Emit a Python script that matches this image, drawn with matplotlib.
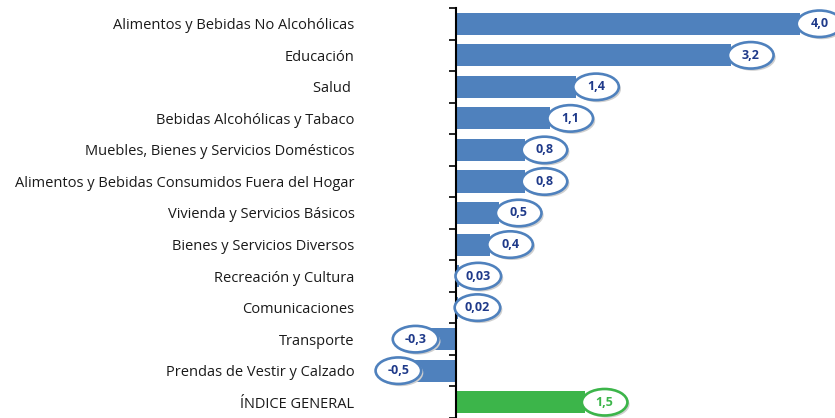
import matplotlib.pyplot as plt
from matplotlib.patches import Ellipse
import numpy as np

# Data
categorias = ["Alimentos y Bebidas No Alcohólicas", "Educación", "Salud ",
              "Bebidas Alcohólicas y Tabaco", "Muebles, Bienes y Servicios Domésticos",
              "Alimentos y Bebidas Consumidos Fuera del Hogar", "Vivienda y Servicios Básicos",
              "Bienes y Servicios Diversos", "Recreación y Cultura", "Comunicaciones",
              "Transporte", "Prendas de Vestir y Calzado", "ÍNDICE GENERAL"]
valores = [4.0, 3.2, 1.4, 1.1, 0.8, 0.8, 0.5, 0.4, 0.03, 0.02, -0.3, -0.5, 1.5]
etiquetas = ["4,0", "3,2", "1,4", "1,1", "0,8", "0,8", "0,5", "0,4", "0,03", "0,02",
             "-0,3", "-0,5", "1,5"]

azul = "#4F81BD"
verde = "#3CB54A"
colores = [azul] * 12 + [verde]
texto_col = ["#1F3A8A"] * 12 + [verde]

plt.rcParams['font.family'] = ['Open Sans', 'DejaVu Sans']

fig = plt.figure(figsize=(8.35, 4.18), dpi=100)
ax = fig.add_axes([370 / 835, 0, 465 / 835, 410 / 418])

y = np.arange(len(categorias))
ax.barh(y, valores, height=0.7, color=colores, zorder=2)

ax.set_xlim(-1.0, 4.41)
ax.set_ylim(12.5, -0.5)

# Labels in ellipses
for yi, v, lab, c, tc in zip(y, valores, etiquetas, colores, texto_col):
    xc = v + 0.23 if v >= 0 else v - 0.17
    sh = Ellipse((xc + 0.025, yi + 0.07), 0.53, 0.84, facecolor="#CFCFCF",
                 edgecolor="none", zorder=3, clip_on=False)
    ax.add_patch(sh)
    el = Ellipse((xc, yi), 0.53, 0.84, facecolor="white", edgecolor=c,
                 linewidth=1.9, zorder=4, clip_on=False)
    ax.add_patch(el)
    ax.text(xc, yi, lab, ha="center", va="center", fontsize=9, fontweight="bold",
            color=tc, zorder=5)

# Axis
for s in ["top", "right", "bottom"]:
    ax.spines[s].set_visible(False)
ax.spines["left"].set_position(("data", 0))
ax.spines["left"].set_linewidth(1.5)
ax.set_xticks([])
ax.set_yticks(y)
ax.set_yticklabels(categorias, fontsize=10.5, color="#1A1A1A")
ax.tick_params(axis="y", which="major", length=0, pad=73)
ax.set_yticks(np.arange(-0.5, 13, 1), minor=True)
ax.tick_params(axis="y", which="minor", length=5, width=1.2, direction="out")

plt.savefig("out.png", dpi=100)
